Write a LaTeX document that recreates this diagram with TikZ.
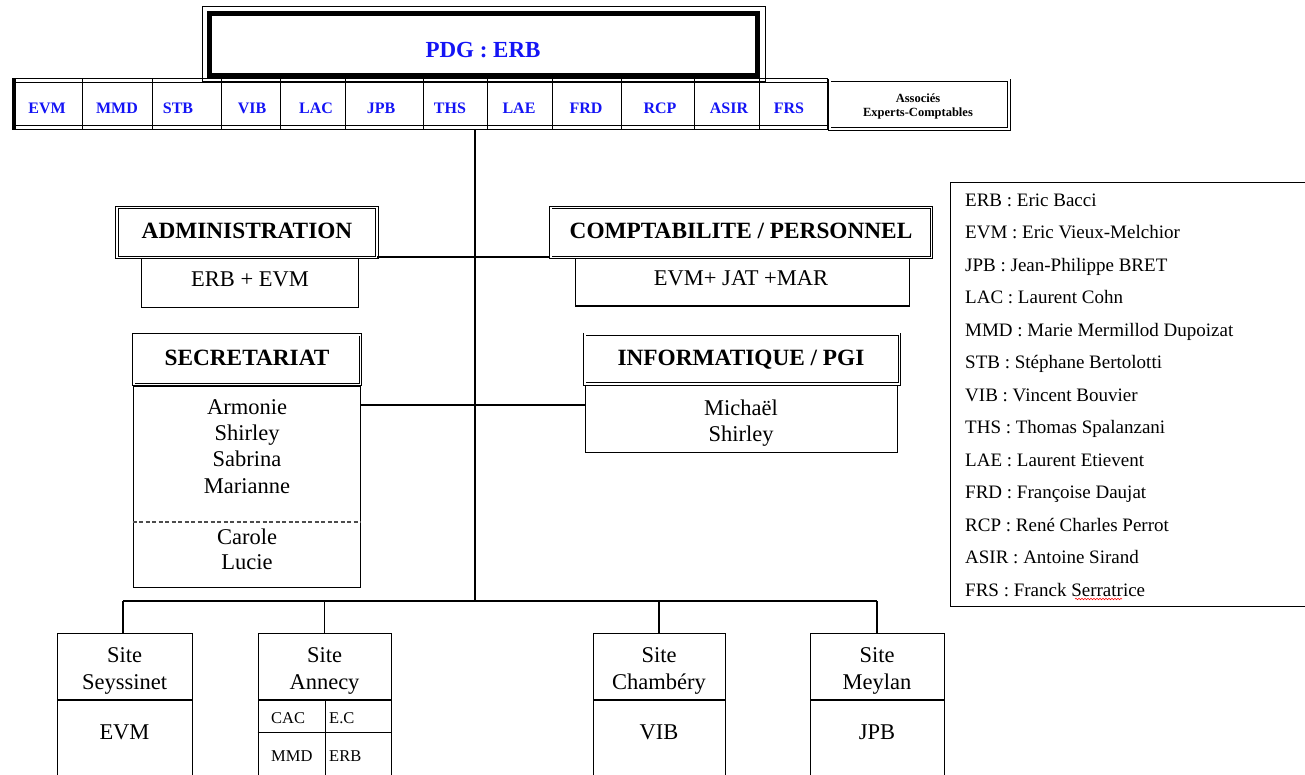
\documentclass[tikz,border=0pt]{standalone}
\usepackage{fontspec}
\setmainfont{Liberation Serif}
\usetikzlibrary{decorations.pathmorphing}
\definecolor{tblue}{RGB}{20,20,245}
\begin{document}
\begin{tikzpicture}[x=1pt,y=-1pt,
  boxline/.style={draw, line width=1pt, inner sep=0pt},
  hdrbox/.style={draw, double, double distance=1.6pt, line width=0.9pt, inner sep=0pt},
  maintxt/.style={inner sep=0pt, font=\fontsize{22.5}{26}\selectfont, text height=15pt, text depth=0pt},
  hdrtxt/.style={inner sep=0pt, font=\fontsize{23.3}{26}\selectfont\bfseries, text height=15.5pt, text depth=0pt},
  celltxt/.style={inner sep=0pt, font=\fontsize{16}{19}\selectfont\bfseries, text=tblue, text height=10.5pt, text depth=0pt},
  smalltxt/.style={inner sep=0pt, font=\fontsize{16.5}{19}\selectfont, text height=11pt, text depth=0pt, anchor=west},
  legtxt/.style={inner sep=0pt, font=\fontsize{19}{22}\selectfont, text height=12.6pt, text depth=0pt, anchor=west},
  conn/.style={line width=2pt},
  drop/.style={line width=1.2pt}
]
\clip (0,0) rectangle (1305,775);
\fill[white] (0,0) rectangle (1305,775);

% ---------- PDG box ----------
\node[draw, line width=5pt, minimum width=548pt, minimum height=62pt, inner sep=0pt] (pdg) at (483.5,45) {};
\draw[line width=1pt] ([shift={(-4.5,-4.5)}]pdg.north west) rectangle ([shift={(5,3)}]pdg.south east);
\node[inner sep=0pt, font=\fontsize{23}{26}\selectfont\bfseries, text=tblue, text height=15pt, text depth=0pt] (pdgt) at (483,50) {PDG : ERB};

% ---------- partners table ----------
\node[draw, line width=1pt, minimum width=815pt, minimum height=51pt, inner sep=0pt] (tbl) at (419.5,104.5) {};
\draw[line width=1pt] (16,83) -- (827,83);
\draw[line width=1pt] (16,126) -- (827,126);
\draw[line width=4pt] (14,79) -- (14,130);
\foreach \sx in {82,152,221,280,345,423,487,552,621,694,759}
  \draw[line width=1pt] (\sx,79) -- (\sx,130);
\foreach \lab/\cx [count=\i] in {EVM/47,MMD/117,STB/178,VIB/252,LAC/316,JPB/381,THS/450,LAE/519,FRD/586,RCP/660,ASIR/729,FRS/789}
  \node[celltxt] (cell\i) at (\cx,108) {\lab};
\node[hdrbox, double distance=2pt, minimum width=179.5pt, minimum height=48.5pt] (assoc) at (919.25,104.75) {};
\node[inner sep=0pt, font=\fontsize{12.5}{14}\selectfont\bfseries, align=center] (assoct) at (918,106) {Associés\\Experts-Comptables};

% ---------- trunk ----------
\coordinate (trtop) at (475,130);
\coordinate (bus) at (475,601);
\draw[conn] (trtop) -- (bus);

% ---------- ADMINISTRATION ----------
\node[hdrbox, minimum width=260pt, minimum height=50pt] (admin) at (247,232.5) {};
\node[hdrtxt] (admint) at (247,231) {ADMINISTRATION};
\node[boxline, minimum width=217pt, minimum height=48pt] (adminsub) at (249.5,283) {};
\node[maintxt] (adminsubt) at (250,279) {ERB + EVM};

% ---------- COMPTABILITE ----------
\node[hdrbox, minimum width=380.6pt, minimum height=50pt] (compta) at (741,232.5) {};
\node[hdrtxt] (comptat) at (741,231) {COMPTABILITE / PERSONNEL};
\node[boxline, minimum width=334pt, minimum height=47pt] (comptasub) at (742,282.5) {};
\node[maintxt] (comptasubt) at (741,278) {EVM+ JAT +MAR};

\draw[conn] ([yshift=1pt]admin.south east) -- ([yshift=1pt]admin.south east -| compta.west);

% ---------- SECRETARIAT ----------
\node[hdrbox, minimum width=226.6pt, minimum height=49.6pt] (secr) at (247,359.5) {};
\node[hdrtxt] (secrt) at (247,358) {SECRETARIAT};
\node[boxline, minimum width=227pt, minimum height=201pt] (secrsub) at (246.5,486.5) {};
\draw[line width=1.3pt, dash pattern=on 4pt off 2.5pt, black!70] (secrsub.west |- 0,522) -- (secrsub.east |- 0,522);
\foreach \nm/\ny [count=\i] in {Armonie/407,Shirley/433,Sabrina/459,Marianne/486,Carole/537,Lucie/562}
  \node[maintxt] (sn\i) at (247,\ny) {\nm};

% ---------- INFORMATIQUE ----------
\node[hdrbox, minimum width=314.6pt, minimum height=49.6pt] (info) at (742,359) {};
\node[hdrtxt] (infot) at (741,358) {INFORMATIQUE / PGI};
\node[boxline, minimum width=312pt, minimum height=67pt] (infosub) at (741,418.5) {};
\node[maintxt] (in1) at (741,408) {Michaël};
\node[maintxt] (in2) at (741,434) {Shirley};

\draw[conn] ([yshift=-19pt]secrsub.north east) -- ([yshift=-19pt]secrsub.north east -| infosub.west);

% ---------- Sites ----------
\node[boxline, minimum width=135pt, minimum height=66pt] (s1) at (124.5,666) {};
\node[boxline, minimum width=135pt, minimum height=101pt, anchor=north] (s1b) at (s1.south) {};
\node[maintxt] (s1t1) at (124.5,655) {Site};
\node[maintxt] (s1t2) at (124.5,682) {Seyssinet};
\node[maintxt] (s1t3) at (124.5,732) {EVM};

\node[boxline, minimum width=133pt, minimum height=66pt] (s2) at (324.5,666) {};
\node[boxline, minimum width=133pt, minimum height=101pt, anchor=north] (s2b) at (s2.south) {};
\node[maintxt] (s2t1) at (324.5,655) {Site};
\node[maintxt] (s2t2) at (324.5,682) {Annecy};
\draw[line width=1pt] (s2b.west |- 0,732) -- (s2b.east |- 0,732);
\draw[line width=1pt] (325,699) -- (325,800);
\node[smalltxt] (s2c1) at (271,718) {CAC};
\node[smalltxt] (s2c2) at (329,718) {E.C};
\node[smalltxt] (s2c3) at (271,756) {MMD};
\node[smalltxt] (s2c4) at (329,756) {ERB};

\node[boxline, minimum width=132pt, minimum height=66pt] (s3) at (659,666) {};
\node[boxline, minimum width=132pt, minimum height=101pt, anchor=north] (s3b) at (s3.south) {};
\node[maintxt] (s3t1) at (659,655) {Site};
\node[maintxt] (s3t2) at (659,682) {Chambéry};
\node[maintxt] (s3t3) at (659,732) {VIB};

\node[boxline, minimum width=134pt, minimum height=66pt] (s4) at (877,666) {};
\node[boxline, minimum width=134pt, minimum height=101pt, anchor=north] (s4b) at (s4.south) {};
\node[maintxt] (s4t1) at (877,655) {Site};
\node[maintxt] (s4t2) at (877,682) {Meylan};
\node[maintxt] (s4t3) at (877,732) {JPB};

\draw[line width=2.5pt] ([xshift=-1.5pt]s1.north |- bus) -- (s4.north |- bus);
\draw[drop] ([xshift=-1.5pt]s1.north |- bus) -- ([xshift=-1.5pt]s1.north);
\draw[drop] (s2.north |- bus) -- (s2.north);
\draw[drop] (s3.north |- bus) -- (s3.north);
\draw[drop] (s4.north |- bus) -- (s4.north);

% ---------- Legend ----------
\node[boxline, minimum width=370pt, minimum height=424pt, anchor=north west] (legend) at (950,182) {};
\foreach \lt [count=\i] in {ERB : Eric Bacci, EVM : Eric Vieux-Melchior, JPB : Jean-Philippe BRET, LAC : Laurent Cohn, MMD : Marie Mermillod Dupoizat, STB : Stéphane Bertolotti, VIB : Vincent Bouvier, THS : Thomas Spalanzani, LAE : Laurent Etievent, FRD : Françoise Daujat, RCP : René Charles Perrot, ASIR : Antoine Sirand, FRS : Franck Serratrice}
  \node[legtxt] (lg\i) at (965,{200+32.5*(\i-1)}) {\lt};
\draw[red, line width=0.6pt, decorate, decoration={snake, amplitude=0.7pt, segment length=3pt}] (1075,599) -- (1122,599);
\end{tikzpicture}
\end{document}
